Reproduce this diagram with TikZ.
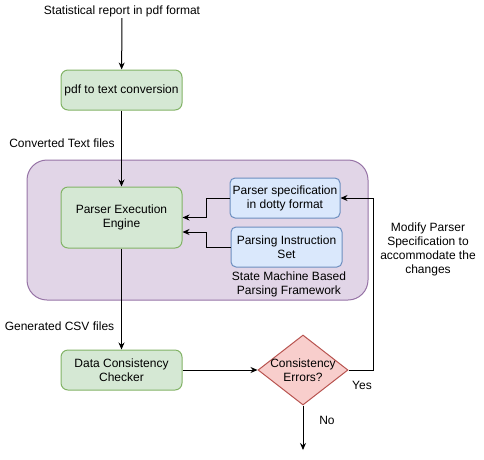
\documentclass[tikz,border=0pt]{standalone}
\usepackage{fontspec}
\setmainfont{Liberation Sans}
\usepackage{tikz}
\usetikzlibrary{shapes.geometric,arrows.meta}

\definecolor{greenfill}{HTML}{D5E8D4}
\definecolor{greenline}{HTML}{82B366}
\definecolor{bluefill}{HTML}{DAE8FC}
\definecolor{blueline}{HTML}{6C8EBF}
\definecolor{redfill}{HTML}{F8CECC}
\definecolor{redline}{HTML}{B85450}
\definecolor{purplefill}{HTML}{E1D5E7}
\definecolor{purpleline}{HTML}{9673A6}

\tikzset{
  txt/.style={font=\fontsize{12}{14}\selectfont,align=center,inner sep=1pt},
  greenbox/.style={txt,draw=greenline,fill=greenfill,rounded corners=7pt,minimum width=121pt},
  bluebox/.style={txt,draw=blueline,fill=bluefill,rounded corners=5pt,minimum height=40pt},
  flow/.style={-{Stealth[length=7pt,width=6pt]},line width=1pt}
}

\begin{document}
\begin{tikzpicture}[x=1pt,y=-1pt,line width=1pt]
			\useasboundingbox (0,0) rectangle (484,459);
			\node[draw=purpleline,fill=purplefill,rounded corners=20pt,minimum width=341pt,minimum height=140pt](frame) at (197.5,230) {};
			\node[txt](src) at (122,11) {Statistical report in pdf format};
			\node[greenbox,minimum height=40pt](pdf) at (121.5,90) {pdf to text conversion};
			\node[txt](converted) at (62,143) {Converted Text files};
			\node[greenbox,minimum height=61pt](engine) at (121.5,217.5) {Parser Execution\\Engine};
			\node[bluebox,minimum width=110pt](spec) at (285,198) {Parser specification\\in dotty format};
			\node[bluebox,minimum width=111pt](instr) at (286.5,247) {Parsing Instruction\\Set};
			\node[txt](framework) at (289,284) {State Machine Based\\Parsing Framework};
			\node[txt](generated) at (59.5,326) {Generated CSV files};
			\node[greenbox,minimum height=40pt](checker) at (121.5,370) {Data Consistency\\Checker};
			\node[diamond,draw=redline,fill=redfill,inner sep=0pt,minimum width=90pt,minimum height=70pt,
				label={[txt]center:Consistency\\Errors?}](errors) at (303,370) {};
			\node[txt](yes) at (362,385) {Yes};
			\node[txt](no) at (327,420) {No};
			\node[txt](modify) at (428,249.5) {Modify Parser\\Specification to\\accommodate the\\changes};
			\coordinate (done) at (303,450);
			\draw[flow] (src)--(pdf);
			\draw[flow] (pdf)--(engine);
			\draw[flow] (spec.west)--++(-23,0)|-(engine.east);
			\draw[flow] (instr.west)--++(-24.5,0)|-([yshift=-14.5pt]engine.east);
			\draw[flow] (engine)--(checker);
			\draw[flow] (checker)--(errors);
			\draw[flow] (errors.east)--++(25,0)|-(spec.east);
			\draw[flow] (errors)--(done);
		\end{tikzpicture}
\end{document}
